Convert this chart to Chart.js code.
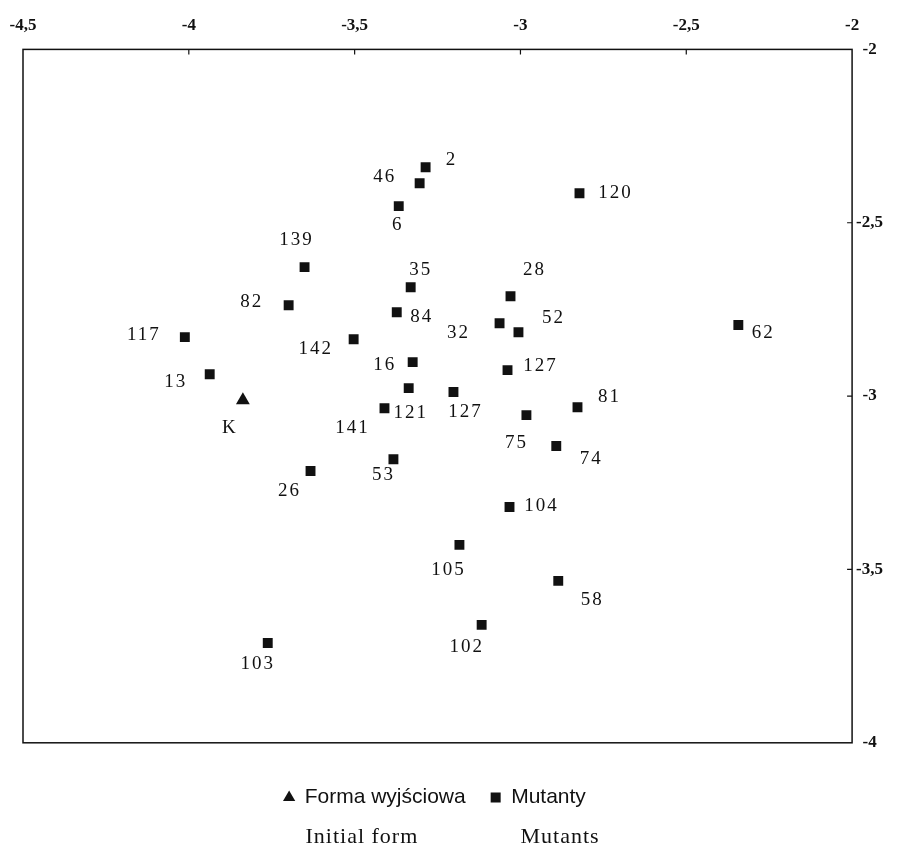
<!DOCTYPE html>
<html>
<head>
<meta charset="utf-8">
<title>Forma wyjściowa i mutanty</title>
<script src="https://cdn.jsdelivr.net/npm/chart.js@4.4.1/dist/chart.umd.min.js"></script>
<style>
  body { margin: 0; background: #fff; }
  canvas { display: block; }
</style>
</head>
<body>
<canvas id="wykres" width="901" height="845"></canvas>
<script>
// forma wyjsciowa (K)
const initialNames = ['K']
const initialX = [-3.837]
const initialY = [-3.012]

// mutanty
const mutantNames = ['2','46','6','120','139','35','28','82','84','32','52','117','142','62','16',
  '127','13','121','127','141','81','75','74','53','26','104','105','58','102','103']
const mutantX = [-3.286,-3.304,-3.367,-2.822,-3.651,-3.331,-3.030,-3.699,-3.373,-3.063,-3.006,-4.012,-3.503,-2.343,-3.325,
  -3.039,-3.937,-3.337,-3.202,-3.410,-2.828,-2.982,-2.892,-3.383,-3.633,-3.033,-3.184,-2.886,-3.117,-3.762]
const mutantY = [-2.340,-2.386,-2.452,-2.415,-2.628,-2.686,-2.712,-2.738,-2.758,-2.790,-2.816,-2.830,-2.836,-2.795,-2.902,
  -2.925,-2.937,-2.977,-2.988,-3.035,-3.032,-3.055,-3.144,-3.182,-3.216,-3.320,-3.429,-3.533,-3.660,-3.712]

const xTickValues = [-4.5, -4, -3.5, -3, -2.5, -2]
const yTickValues = [-2, -2.5, -3, -3.5, -4]

const legendNames = ['Forma wyjściowa', 'Mutanty']
const englishNames = ['Initial form', 'Mutants']

// where each number sits next to its marker (px from the marker centre)
const initialLabelPos = [[-14, 28]]
const mutantLabelPos = [[25,-7],[-36,-6],[-2,19],[35,0],[-9,-27],[9,-17],[23,-26],[-38,-3],[24,5],[-42,10],
  [34,-14],[-42,-2],[-39,10],[24,8],[-29,3],[32,-4],[-35,8],[1,25],[11,20],[-33,20],
  [31,-10],[-11,28],[34,13],[-11,16],[-22,20],[31,-1],[-12,25],[33,19],[-16,22],[-11,21]]

const toPoints = (xs, ys) => xs.map((x, i) => ({x: x, y: ys[i]}))
const comma = v => String(v).replace('.', ',')

const frame = {
  id: 'frame',
  beforeDatasetsDraw(chart) {
    const {ctx, chartArea: a, scales} = chart
    ctx.save()
    ctx.strokeStyle = '#111'
    ctx.lineWidth = 1.5
    ctx.strokeRect(a.left, a.top, a.right - a.left, a.bottom - a.top)
    ctx.lineWidth = 1.2
    ctx.beginPath()
    scales.x.ticks.forEach(t => {
      if (t.value <= scales.x.min || t.value >= scales.x.max) return
      const px = scales.x.getPixelForValue(t.value)
      ctx.moveTo(px, a.top)
      ctx.lineTo(px, a.top + 5)
    })
    scales.y.ticks.forEach(t => {
      if (t.value <= scales.y.min || t.value >= scales.y.max) return
      const py = scales.y.getPixelForValue(t.value)
      ctx.moveTo(a.right, py)
      ctx.lineTo(a.right - 5, py)
    })
    ctx.stroke()
    ctx.restore()
  }
}

const pointLabels = {
  id: 'pointLabels',
  afterDatasetsDraw(chart) {
    const ctx = chart.ctx
    ctx.save()
    ctx.font = '19px "Liberation Serif", "Times New Roman", serif'
    ctx.letterSpacing = '2px'
    ctx.fillStyle = '#111'
    ctx.textAlign = 'center'
    ctx.textBaseline = 'middle'
    chart.data.datasets.forEach((ds, i) => {
      chart.getDatasetMeta(i).data.forEach((pt, j) => {
        const off = ds.labelPos[j]
        ctx.fillText(ds.names[j], pt.x + off[0] + 1, pt.y + off[1])
      })
    })
    ctx.restore()
  }
}

// legend sits a little left of centre in the original
const legendShift = {
  id: 'legendShift',
  afterLayout(chart) {
    chart.legend.left -= 20
    chart.legend.right -= 20
  }
}

const englishLine = {
  id: 'englishLine',
  afterDraw(chart) {
    const ctx = chart.ctx
    const mid = chart.width / 2
    ctx.save()
    ctx.font = '22px "Liberation Serif", "Times New Roman", serif'
    ctx.letterSpacing = '1px'
    ctx.fillStyle = '#111'
    ctx.textAlign = 'left'
    ctx.textBaseline = 'alphabetic'
    ctx.fillText(englishNames[0], mid - 145, chart.height - 2)
    ctx.fillText(englishNames[1], mid + 70, chart.height - 2)
    ctx.restore()
  }
}

const tickFont = {family: '"Liberation Serif", "Times New Roman", serif', size: 17, weight: 'bold'}

new Chart(document.getElementById('wykres'), {
  type: 'scatter',
  data: {
    datasets: [
      {
        label: legendNames[0],
        data: toPoints(initialX, initialY),
        names: initialNames,
        labelPos: initialLabelPos,
        pointStyle: 'triangle',
        pointRadius: 8,
        backgroundColor: '#111',
        borderColor: '#111',
        borderWidth: 0
      },
      {
        label: legendNames[1],
        data: toPoints(mutantX, mutantY),
        names: mutantNames,
        labelPos: mutantLabelPos,
        pointStyle: 'rect',
        pointRadius: 7,
        backgroundColor: '#111',
        borderColor: '#111',
        borderWidth: 0
      }
    ]
  },
  options: {
    responsive: false,
    animation: false,
    events: [],
    devicePixelRatio: 1,
    layout: {padding: {top: 1, left: 23, right: 14, bottom: 27}},
    scales: {
      x: {
        type: 'linear',
        position: 'top',
        min: -4.5,
        max: -2,
        afterBuildTicks: s => { s.ticks = xTickValues.map(v => ({value: v})) },
        // the first label may hang over the left edge, as in the original
        afterFit: s => { s.paddingLeft = 0 },
        ticks: {callback: comma, font: tickFont, color: '#111', padding: 14, maxRotation: 0, autoSkip: false},
        grid: {display: false, drawTicks: false},
        border: {display: false}
      },
      y: {
        type: 'linear',
        position: 'right',
        min: -4,
        max: -2,
        afterBuildTicks: s => { s.ticks = yTickValues.map(v => ({value: v})) },
        ticks: {callback: comma, font: tickFont, color: '#111', padding: 4, crossAlign: 'center', autoSkip: false},
        grid: {display: false, drawTicks: false},
        border: {display: false}
      }
    },
    plugins: {
      tooltip: {enabled: false},
      legend: {
        position: 'bottom',
        title: {display: true, text: ' ', font: {size: 16}, padding: 0},
        labels: {
          usePointStyle: true,
          boxWidth: 10,
          boxHeight: 10,
          padding: 25,
          color: '#111',
          font: {family: '"Liberation Sans", Arial, sans-serif', size: 21}
        }
      }
    }
  },
  plugins: [frame, pointLabels, legendShift, englishLine]
})
</script>
</body>
</html>
